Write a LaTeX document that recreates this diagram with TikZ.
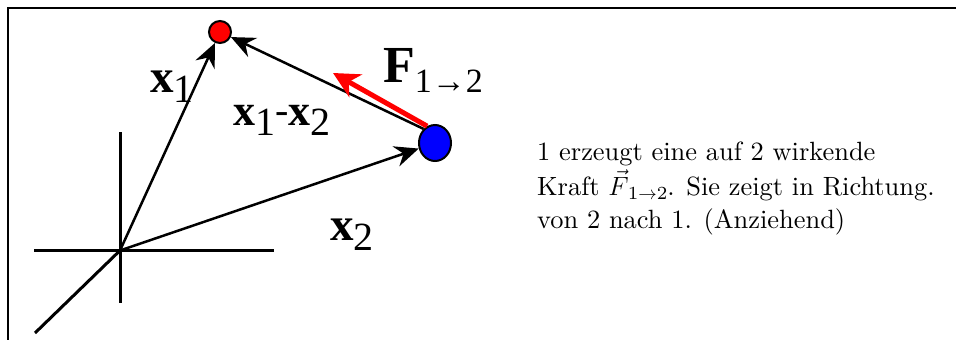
\RequirePackage{fix-cm}
\documentclass[tikz,border=0pt]{standalone}
\usepackage{fontspec}
\setmainfont{lmroman10-regular.otf}[ItalicFont=lmroman10-italic.otf,BoldFont=lmroman10-bold.otf]
\newfontfamily\lmseven{lmroman7-regular.otf}
\newfontfamily\tms{Liberation Serif}
\usetikzlibrary{arrows.meta,shapes.geometric}
\newcommand{\lsub}[1]{\raisebox{-10pt}{\tms\mdseries\fontsize{40}{40}\selectfont #1}}
\begin{document}
\begin{tikzpicture}[x=1pt,y=-1pt,
  vec/.style={line width=2.5pt,-{Stealth[length=24pt,width=21pt,inset=8pt]}},
  axis/.style={line width=3pt},
  lab/.style={inner sep=0pt,anchor=base west,font=\tms\bfseries\fontsize{47}{47}\selectfont},
  txt/.style={inner sep=0pt,anchor=base west,font=\fontsize{26.4}{34}\selectfont},
  frame/.style={line width=2pt}]
\useasboundingbox (0,0) rectangle (956,340);
\draw[frame] (956,8) -- (7.5,8) -- (7.5,340);
% axes
\coordinate (O) at (120,250.5);
\coordinate (yt) at (120,132);
\coordinate (yb) at (120,303);
\coordinate (xl) at (34,250.5);
\coordinate (xr) at (274,250.5);
\coordinate (zb) at (35,333);
\draw[axis] (yt) -- (yb);
\draw[axis] (xl) -- (xr);
\draw[axis] (O) -- (zb);
% particles
\node[circle,draw,fill=red,line width=2pt,minimum size=22pt,inner sep=0pt] (p1) at (220,32) {};
\node[ellipse,draw,fill=blue,line width=2pt,minimum width=32pt,minimum height=36pt,inner sep=0pt] (p2) at (435,143) {};
% vectors
\draw[vec] (O) -- (p1);
\draw[vec] (O) -- (p2);
\draw[vec] (p2.129) -- (p1.-25);
\coordinate (Ft) at (333,73);
\draw[line width=5pt,red,-{Stealth[length=26pt,width=26pt,inset=8pt]}] (p2.115) -- (Ft);
% labels
\node[lab] (lx1) at (150,92) {x\lsub{1}};
\node[lab,font=\tms\bfseries\fontsize{44}{44}\selectfont] (lx12) at (233,125) {x\lsub{1}\raisebox{2pt}{\mdseries\fontsize{40}{40}\selectfont -}x\lsub{2}};
\node[lab] (lx2) at (330,240) {x\lsub{2}};
\node[lab,font=\tms\bfseries\fontsize{52}{52}\selectfont] (lF) at (383,82) {F\raisebox{-10pt}{\mdseries\fontsize{34}{34}\selectfont 1→2}};
% text
\node[txt] (t1) at (537,160) {1 erzeugt eine auf 2 wirkende};
\node[txt] (t2) at (537,195) {Kraft $\vec{F}$\kern-1pt\raisebox{-4.5pt}{\lmseven\fontsize{18.5}{18.5}\selectfont 1$\to$2}. Sie zeigt in Richtung.};
\node[txt] (t3) at (537,228) {von 2 nach 1. (Anziehend)};
\end{tikzpicture}
\end{document}
